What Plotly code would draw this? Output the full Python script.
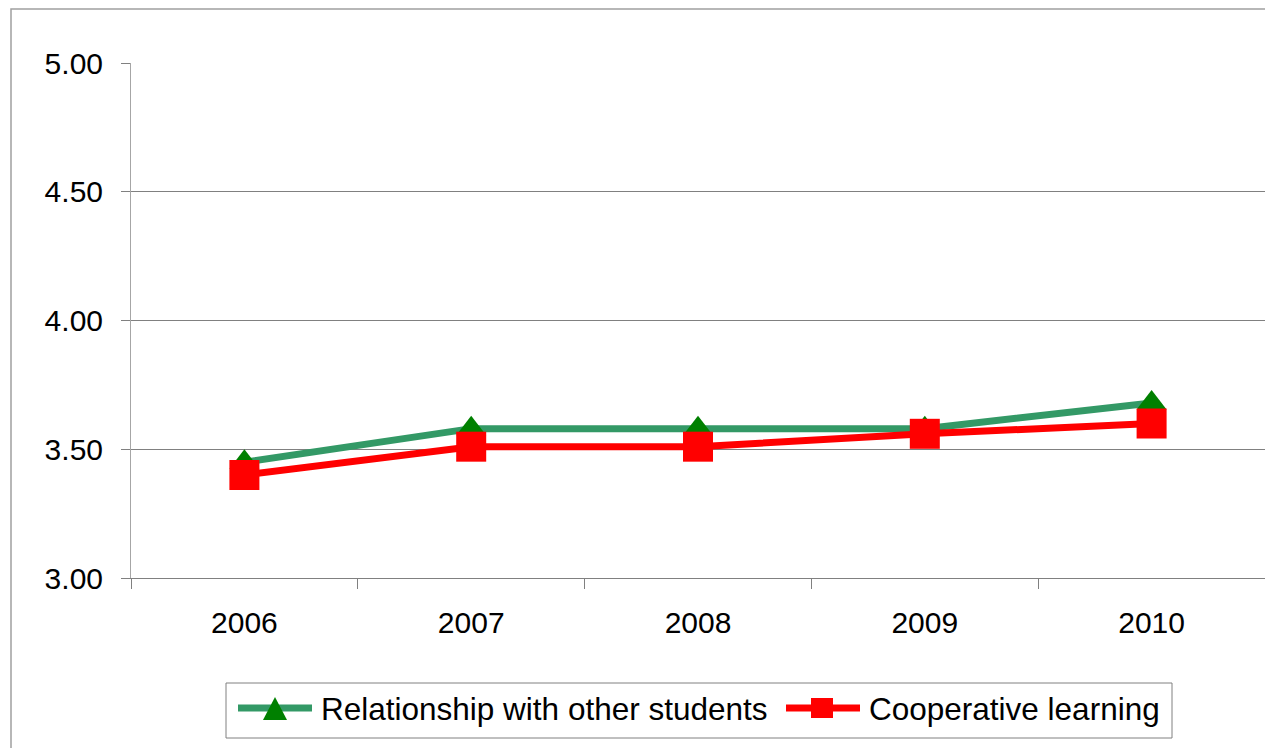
import plotly.graph_objects as go

years = ["2006", "2007", "2008", "2009", "2010"]
relationship = [3.45, 3.58, 3.58, 3.58, 3.68]
cooperative = [3.40, 3.51, 3.51, 3.56, 3.60]
y_ticks = [3.0, 3.5, 4.0, 4.5, 5.0]
series_names = ["Relationship with other students", "Cooperative learning"]

font_family = "Liberation Sans, Arial, sans-serif"
GREEN_LINE = "#339966"
GREEN_MARK = "#008000"
RED = "#ff0000"

# page geometry (the page body adds an 8px offset)
OFF = 8
PL, PR, PT, PB = 131, 1265, 63, 578  # plot area in page pixels
W, H = 1273, 748


def px(x):
    return (x - PL) / (PR - PL)


def py(y):
    return (PB - y) / (PB - PT)


fig = go.Figure()
fig.add_trace(go.Scatter(
    x=years, y=relationship, name=series_names[0],
    mode="lines+markers",
    line=dict(color=GREEN_LINE, width=7),
    marker=dict(symbol="triangle-up", size=26, color=GREEN_MARK),
    showlegend=False,
))
fig.add_trace(go.Scatter(
    x=years, y=cooperative, name=series_names[1],
    mode="lines+markers",
    line=dict(color=RED, width=7),
    marker=dict(symbol="square", size=30, color=RED),
    showlegend=False,
))

fig.update_layout(
    width=W, height=H,
    margin=dict(l=PL - OFF, r=W - (PR - OFF), t=PT - OFF, b=H - (PB - OFF)),
    paper_bgcolor="white", plot_bgcolor="white",
    font=dict(family=font_family, size=30, color="black"),
    showlegend=False,
    xaxis=dict(
        type="category", range=[-0.5, 4.5],
        tickson="boundaries", ticks="outside", ticklen=10, tickcolor="#808080",
        showgrid=False, showline=True, linecolor="#808080", linewidth=1,
        ticklabelstandoff=18, zeroline=False,
        tickfont=dict(family=font_family, size=30, color="black"),
    ),
    yaxis=dict(
        range=[3, 5], tickvals=y_ticks, tickformat=".2f",
        ticks="outside", ticklen=9, tickcolor="#808080",
        showgrid=True, gridcolor="#808080", gridwidth=1,
        showline=True, linecolor="#a6a6a6", linewidth=1, zeroline=False,
        ticklabelstandoff=12,
        tickfont=dict(family=font_family, size=30, color="black"),
    ),
)

shapes = []
# outer chart border (left and top edges visible)
shapes.append(dict(type="rect", xref="paper", yref="paper",
                   x0=px(11), x1=px(1300), y0=py(800), y1=py(9),
                   line=dict(color="#a0a0a0", width=1.5), layer="below"))
# legend box
shapes.append(dict(type="rect", xref="paper", yref="paper",
                   x0=px(226), x1=px(1172), y0=py(738), y1=py(683),
                   line=dict(color="#808080", width=1), fillcolor="white"))
# legend sample: green line + triangle
shapes.append(dict(type="line", xref="paper", yref="paper",
                   x0=px(238), x1=px(312), y0=py(708), y1=py(708),
                   line=dict(color=GREEN_LINE, width=7)))
shapes.append(dict(type="path", xref="paper", yref="paper",
                   path=f"M {px(263)},{py(720)} L {px(287)},{py(720)} L {px(275)},{py(697)} Z",
                   line=dict(color=GREEN_MARK, width=0), fillcolor=GREEN_MARK))
# legend sample: red line + square
shapes.append(dict(type="line", xref="paper", yref="paper",
                   x0=px(786), x1=px(860), y0=py(708), y1=py(708),
                   line=dict(color=RED, width=7)))
shapes.append(dict(type="rect", xref="paper", yref="paper",
                   x0=px(811), x1=px(833), y0=py(718), y1=py(698),
                   line=dict(color=RED, width=0), fillcolor=RED))
fig.update_layout(shapes=shapes)

fig.add_annotation(x=px(319), y=py(709), xref="paper", yref="paper",
                   text=series_names[0], showarrow=False,
                   xanchor="left", yanchor="middle",
                   font=dict(family=font_family, size=31.5, color="black"))
fig.add_annotation(x=px(867), y=py(709), xref="paper", yref="paper",
                   text=series_names[1], showarrow=False,
                   xanchor="left", yanchor="middle",
                   font=dict(family=font_family, size=31.5, color="black"))

fig.write_html("out.html")
